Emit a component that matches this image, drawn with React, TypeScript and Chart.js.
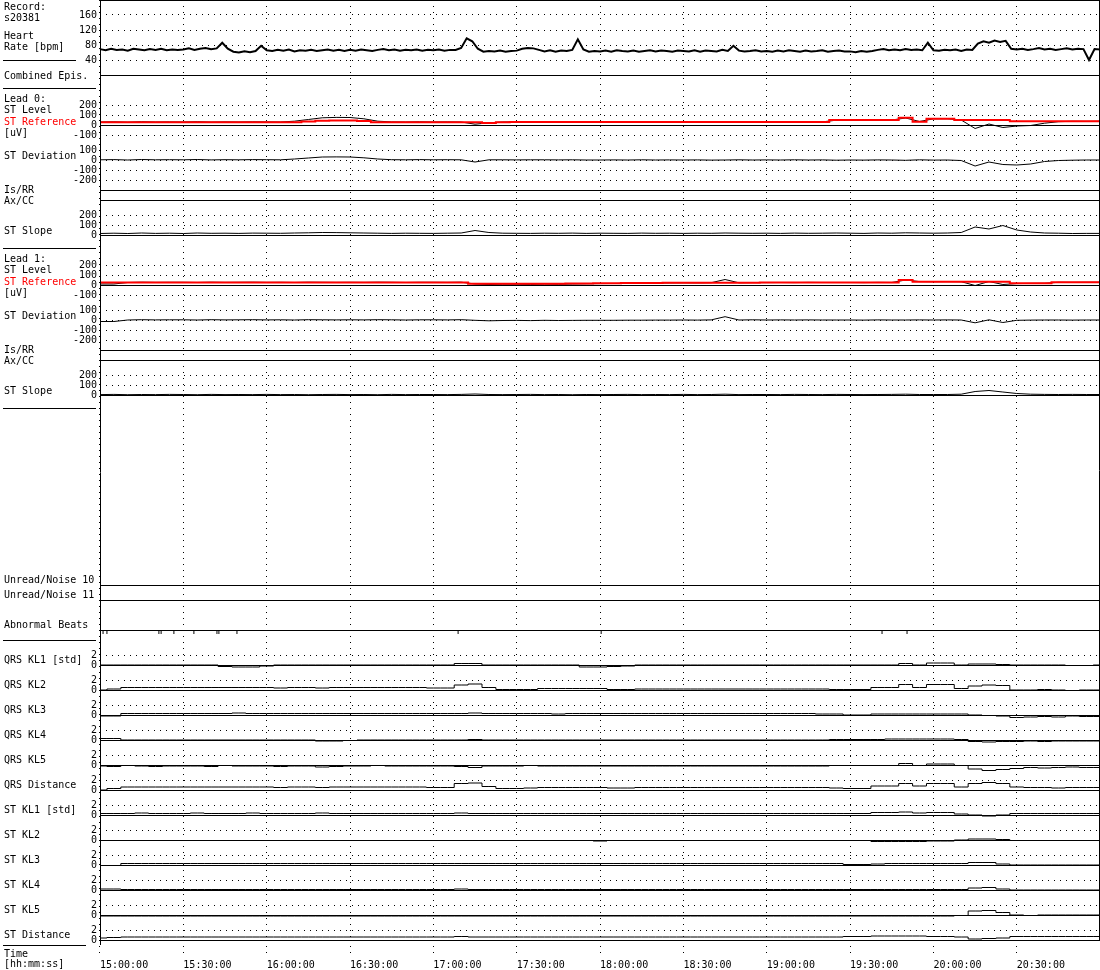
import React, { useEffect, useRef } from 'react';
import { Chart, registerables } from 'chart.js';

Chart.register(...registerables);

const FONT_FAMILY = '"DejaVu Sans Mono", "Liberation Mono", monospace';
const RED = '#ff0000';
const BLACK = '#000000';

// ---------- time axis (minutes after 15:00:00) ----------
const timeTickValues = [0, 30, 60, 90, 120, 150, 180, 210, 240, 270, 300, 330];
const timeTickLabels = ['15:00:00', '15:30:00', '16:00:00', '16:30:00', '17:00:00', '17:30:00',
  '18:00:00', '18:30:00', '19:00:00', '19:30:00', '20:00:00', '20:30:00'];
const TIME_MAX = 359.6;

// ---------- tick labels of the strips ----------
const hrTicks = [160, 120, 80, 40];
const stLevelTicks = [200, 100, 0, -100];
const stDevTicks = [100, 0, -100, -200];
const stSlopeTicks = [200, 100, 0];
const klTicks = [2, 0];

// ---------- heart rate [bpm], one sample every 2 minutes ----------
const HR_STEP = 2;
const heartRate = [
  69, 66, 70, 67, 68, 65, 70, 68, 66, 69, 67, 70, 66, 68, 67,
  68, 71, 67, 70, 72, 69, 71, 86, 70, 62, 60, 63, 61, 64, 78,
  66, 64, 67, 65, 68, 63, 66, 65, 67, 64, 66, 68, 65, 67, 64,
  67, 65, 68, 66, 64, 67, 69, 66, 68, 65, 67, 66, 68, 65, 67,
  66, 68, 65, 67, 67, 72, 98, 90, 70, 62, 64, 63, 65, 62, 64,
  65, 70, 72, 71, 67, 63, 66, 62, 65, 64, 67, 95, 68, 62, 64,
  63, 65, 62, 66, 64, 63, 65, 62, 64, 66, 63, 65, 64, 62, 65,
  64, 63, 66, 62, 65, 64, 63, 67, 64, 78, 65, 63, 64, 66, 63,
  64, 62, 65, 63, 66, 64, 62, 65, 63, 64, 66, 62, 64, 65, 63,
  63, 61, 64, 62, 64, 67, 69, 66, 68, 66, 69, 67, 68, 66, 86,
  66, 65, 67, 66, 68, 64, 68, 67, 84, 90, 86, 92, 88, 91, 70,
  68, 70, 67, 69, 72, 68, 70, 67, 69, 71, 68, 70, 69, 40, 69,
  68,
];

// ---------- trend series, one sample every 5 minutes ----------
const TREND_STEP = 5;

const lead0StLevel = [
  30, 32, 28, 33, 30, 31,
  30, 33, 29, 31, 30, 32,
  31, 30, 38, 55, 72, 76,
  75, 62, 38, 31, 30, 32,
  30, 31, 30, 8, 22, 30,
  31, 30, 32, 29, 31, 30,
  30, 31, 30, 32, 30, 31,
  30, 31, 29, 30, 32, 30,
  31, 30, 32, 30, 31, 48,
  50, 49, 51, 50, 70, 35,
  62, 63, 50, -35, 10, -25,
  -10, -5, 18, 33, 37, 36,
  37,
];
const lead0StReference = [
  28, 28, 28, 28, 28, 28,
  28, 28, 28, 28, 28, 28,
  28, 28, 28, 35, 42, 45,
  45, 40, 28, 28, 28, 28,
  28, 28, 28, 28, 20, 28,
  30, 30, 30, 30, 30, 30,
  30, 30, 30, 30, 30, 30,
  30, 30, 30, 30, 30, 30,
  30, 30, 30, 30, 30, 50,
  50, 50, 50, 50, 73, 33,
  63, 63, 50, 50, 50, 50,
  37, 37, 37, 37, 37, 37,
  37,
];
const lead0StDeviation = [
  2, 4, 0, 5, 2, 3,
  2, 5, 1, 3, 2, 4,
  3, 2, 10, 20, 30, 31,
  30, 22, 10, 3, 2, 4,
  2, 3, 2, -20, 2, 2,
  1, 2, 2, 1, 2, 0,
  0, 1, 0, 2, 0, 1,
  0, 1, -1, 0, 2, 0,
  1, 0, 2, 0, 1, -2,
  0, -1, 1, 0, -3, 2,
  -1, 0, -5, -60, -20, -45,
  -50, -40, -15, -5, -2, 0,
  0,
];
const lead0StSlope = [
  15, 18, 15, 20, 16, 18,
  15, 20, 17, 18, 16, 19,
  18, 17, 20, 22, 25, 24,
  22, 20, 18, 16, 18, 17,
  16, 18, 20, 45, 25, 18,
  17, 16, 18, 17, 19, 16,
  18, 17, 16, 19, 17, 18,
  16, 18, 17, 20, 18, 17,
  18, 16, 19, 17, 18, 20,
  18, 16, 20, 18, 22, 20,
  18, 20, 25, 80, 60, 95,
  50, 30, 20, 18, 15, 16,
  16,
];

const lead1StLevel = [
  10, 10, 25, 28, 26, 27,
  27, 25, 28, 26, 27, 28,
  26, 27, 25, 28, 27, 26,
  27, 26, 28, 27, 25, 27,
  27, 26, 28, 10, 5, 8,
  8, 6, 9, 7, 10, 12,
  14, 15, 17, 18, 20, 21,
  22, 21, 23, 55, 22, 24,
  24, 25, 24, 26, 25, 25,
  25, 24, 26, 25, 50, 34,
  33, 34, 33, -5, 35, 5,
  14, 16, 17, 27, 26, 27,
  27,
];
const lead1StReference = [
  25, 25, 25, 25, 25, 25,
  25, 25, 25, 25, 25, 25,
  25, 25, 25, 25, 25, 25,
  25, 25, 25, 25, 25, 25,
  25, 25, 25, 12, 12, 12,
  12, 12, 12, 12, 14, 15,
  17, 18, 19, 20, 21, 22,
  22, 22, 22, 22, 22, 22,
  24, 24, 24, 25, 25, 25,
  25, 25, 25, 25, 50, 33,
  33, 33, 33, 33, 33, 33,
  17, 17, 17, 27, 27, 27,
  27,
];
const lead1StDeviation = [
  -15, -15, 0, 3, 1, 2,
  2, 0, 3, 1, 2, 3,
  1, 2, 0, 3, 2, 1,
  2, 1, 3, 2, 0, 2,
  2, 1, 3, -3, -8, -5,
  -4, -6, -3, -5, -4, -3,
  -3, -3, -2, -2, -1, -1,
  0, -1, 1, 33, 0, 2,
  0, 1, 0, 1, 0, 0,
  0, -1, 1, 0, 0, 1,
  0, 1, 0, -28, 2, -25,
  -3, -1, 0, 0, -1, 0,
  0,
];
const lead1StSlope = [
  4, 6, 3, 5, 4, 6,
  5, 3, 6, 4, 5, 4,
  6, 4, 5, 3, 5, 6,
  4, 5, 3, 6, 4, 5,
  5, 4, 6, 10, 5, 4,
  5, 6, 4, 5, 3, 5,
  4, 5, 6, 4, 5, 4,
  6, 4, 5, 8, 4, 5,
  5, 4, 6, 5, 4, 6,
  5, 4, 5, 6, 8, 5,
  5, 5, 8, 35, 45, 30,
  15, 8, 6, 5, 6, 5,
  5,
];

// ---------- KL coefficients [std] ----------
const qrsKl1 = [
  0, 0, 0, 0, 0, 0,
  0, 0, 0, -0.3, -0.4, -0.4,
  -0.2, 0, 0, 0, 0, 0,
  0, 0, 0, 0, 0, 0,
  0, 0, 0.3, 0.3, 0, 0,
  0, 0, 0, 0, 0, -0.4,
  -0.4, -0.3, -0.2, 0, 0, 0,
  0, 0, 0, 0, 0, 0,
  0, 0, 0, 0, 0, 0,
  0, 0, 0, 0, 0.3, 0,
  0.4, 0.4, 0, 0.2, 0.2, 0.1,
  0, 0, 0, 0, -0.1, -0.1,
  0,
];
const qrsKl2 = [
  0, 0.2, 0.5, 0.5, 0.5, 0.5,
  0.5, 0.5, 0.5, 0.5, 0.5, 0.5,
  0.5, 0.4, 0.5, 0.5, 0.4, 0.5,
  0.5, 0.5, 0.5, 0.5, 0.5, 0.5,
  0.4, 0.4, 1.0, 1.2, 0.5, 0.1,
  0.1, 0.1, 0.3, 0.3, 0.3, 0.3,
  0.3, 0.1, 0.1, 0.2, 0.2, 0.2,
  0.2, 0.2, 0.2, 0.2, 0.2, 0.2,
  0.2, 0.2, 0.2, 0.2, 0.2, 0.1,
  0.1, 0.1, 0.5, 0.5, 1.1, 0.5,
  1.1, 1.1, 0.3, 0.8, 1.0, 0.9,
  0, 0, 0.1, 0, -0.1, 0,
  0,
];
const qrsKl3 = [
  -0.2, -0.2, 0.3, 0.3, 0.3, 0.3,
  0.3, 0.3, 0.3, 0.3, 0.4, 0.3,
  0.3, 0.3, 0.3, 0.3, 0.3, 0.3,
  0.3, 0.3, 0.3, 0.3, 0.3, 0.3,
  0.3, 0.3, 0.3, 0.4, 0.3, 0.3,
  0.3, 0.3, 0.3, 0.2, 0.3, 0.3,
  0.3, 0.3, 0.3, 0.3, 0.3, 0.3,
  0.3, 0.3, 0.3, 0.3, 0.3, 0.3,
  0.3, 0.3, 0.3, 0.3, 0.2, 0.2,
  0, 0, 0.2, 0.2, 0.2, 0.2,
  0.2, 0.2, 0.2, 0, -0.1, -0.2,
  -0.5, -0.4, -0.3, -0.4, -0.2, -0.3,
  -0.3,
];
const qrsKl4 = [
  0.3, 0.3, 0, 0, 0, 0,
  0, 0, 0, 0, 0, 0,
  0, 0, 0, 0, -0.2, -0.2,
  -0.1, 0, 0, 0, 0, 0,
  0, 0, 0, 0.1, 0, 0,
  0, 0, 0, 0, 0, 0,
  0, 0, 0, 0, 0, 0,
  0, 0, 0, 0, 0, 0,
  0, 0, 0, 0, 0, 0.1,
  0.1, 0.1, 0.1, 0.2, 0.2, 0.2,
  0.2, 0.2, 0.1, -0.3, -0.4, -0.3,
  -0.3, -0.2, -0.3, -0.2, -0.2, -0.2,
  -0.2,
];
const qrsKl5 = [
  -0.2, -0.3, -0.1, -0.2, -0.3, -0.2,
  -0.2, -0.2, -0.3, -0.1, -0.2, -0.2,
  -0.2, -0.3, -0.2, -0.2, -0.4, -0.3,
  -0.2, -0.2, -0.1, -0.2, -0.2, -0.2,
  -0.2, -0.2, -0.3, -0.5, -0.2, -0.2,
  -0.2, -0.1, -0.2, -0.2, -0.2, -0.2,
  -0.2, -0.2, -0.2, -0.2, -0.2, -0.2,
  -0.2, -0.2, -0.2, -0.2, -0.2, -0.2,
  -0.2, -0.2, -0.2, -0.2, -0.2, -0.1,
  -0.1, -0.1, -0.1, -0.1, 0.3, -0.1,
  0.2, 0.2, -0.1, -0.8, -1.1, -0.9,
  -0.7, -0.5, -0.6, -0.5, -0.4, -0.5,
  -0.5,
];
const qrsDistance = [
  0, 0.3, 0.6, 0.6, 0.6, 0.6,
  0.6, 0.6, 0.6, 0.6, 0.6, 0.6,
  0.6, 0.5, 0.6, 0.6, 0.5, 0.6,
  0.6, 0.6, 0.6, 0.6, 0.6, 0.6,
  0.5, 0.5, 1.3, 1.4, 0.7, 0.3,
  0.3, 0.4, 0.5, 0.5, 0.5, 0.5,
  0.5, 0.4, 0.4, 0.5, 0.5, 0.5,
  0.5, 0.5, 0.5, 0.5, 0.5, 0.5,
  0.5, 0.5, 0.5, 0.5, 0.5, 0.4,
  0.3, 0.3, 0.8, 0.8, 1.3, 0.8,
  1.3, 1.3, 0.6, 1.3, 1.5, 1.3,
  0.6, 0.5, 0.5, 0.4, 0.5, 0.5,
  0.5,
];
const stKl1 = [
  0.3, 0.3, 0.3, 0.4, 0.3, 0.3,
  0.3, 0.4, 0.3, 0.3, 0.3, 0.4,
  0.3, 0.3, 0.3, 0.3, 0.4, 0.3,
  0.3, 0.3, 0.3, 0.3, 0.3, 0.3,
  0.3, 0.3, 0.4, 0.3, 0.3, 0.3,
  0.3, 0.3, 0.3, 0.3, 0.3, 0.3,
  0.3, 0.3, 0.3, 0.3, 0.3, 0.3,
  0.3, 0.3, 0.3, 0.3, 0.3, 0.3,
  0.3, 0.3, 0.3, 0.3, 0.3, 0.3,
  0.3, 0.3, 0.5, 0.5, 0.6, 0.4,
  0.5, 0.5, 0.2, 0, -0.2, 0,
  0.3, 0.3, 0.3, 0.3, 0.3, 0.3,
  0.3,
];
const stKl2 = [
  -0.1, -0.1, -0.1, -0.1, -0.1, -0.1,
  -0.1, -0.1, -0.1, -0.1, -0.1, -0.1,
  -0.1, -0.1, -0.1, -0.1, -0.1, -0.1,
  -0.1, -0.1, -0.1, -0.1, -0.1, -0.1,
  -0.1, -0.1, -0.1, -0.1, -0.1, -0.1,
  -0.1, -0.1, -0.1, -0.1, -0.1, -0.1,
  -0.2, -0.1, -0.1, -0.1, -0.1, -0.1,
  -0.1, -0.1, -0.1, -0.1, -0.1, -0.1,
  -0.1, -0.1, -0.1, -0.1, -0.1, -0.1,
  -0.1, -0.1, -0.3, -0.3, -0.3, -0.3,
  -0.2, -0.2, 0, 0.2, 0.2, 0.1,
  -0.1, -0.1, -0.1, -0.1, -0.1, -0.1,
  -0.1,
];
const stKl3 = [
  -0.1, -0.1, 0.3, 0.3, 0.3, 0.3,
  0.3, 0.3, 0.3, 0.3, 0.3, 0.3,
  0.3, 0.3, 0.3, 0.3, 0.3, 0.3,
  0.3, 0.3, 0.3, 0.3, 0.3, 0.3,
  0.3, 0.3, 0.3, 0.3, 0.3, 0.3,
  0.3, 0.3, 0.3, 0.3, 0.3, 0.3,
  0.3, 0.3, 0.3, 0.3, 0.3, 0.3,
  0.3, 0.3, 0.3, 0.3, 0.3, 0.3,
  0.3, 0.3, 0.3, 0.3, 0.3, 0.3,
  0.1, 0.1, 0.2, 0.3, 0.3, 0.3,
  0.3, 0.3, 0.3, 0.5, 0.5, 0.2,
  0, 0, 0, 0, 0, 0,
  0,
];
const stKl4 = [
  0.2, 0.2, 0.1, 0.1, 0.1, 0.1,
  0.1, 0.1, 0.1, 0.1, 0.1, 0.1,
  0.1, 0.1, 0.1, 0.1, 0.1, 0.1,
  0.1, 0.1, 0.1, 0.1, 0.1, 0.1,
  0.1, 0.1, 0.2, 0.1, 0.1, 0.1,
  0.1, 0.1, 0.1, 0.1, 0.1, 0.1,
  0.1, 0.1, 0.1, 0.1, 0.1, 0.1,
  0.1, 0.1, 0.1, 0.1, 0.1, 0.1,
  0.1, 0.1, 0.1, 0.1, 0.1, 0.1,
  0.1, 0.1, 0.1, 0.1, 0.1, 0.1,
  0.1, 0.1, 0.1, 0.4, 0.5, 0.2,
  0, 0, 0, 0, 0, 0,
  0,
];
const stKl5 = [
  -0.2, -0.2, -0.2, -0.2, -0.2, -0.2,
  -0.2, -0.2, -0.2, -0.2, -0.2, -0.2,
  -0.2, -0.2, -0.2, -0.2, -0.2, -0.2,
  -0.2, -0.2, -0.2, -0.2, -0.2, -0.2,
  -0.2, -0.2, -0.2, -0.2, -0.2, -0.2,
  -0.2, -0.2, -0.2, -0.2, -0.2, -0.2,
  -0.2, -0.2, -0.2, -0.2, -0.2, -0.2,
  -0.2, -0.2, -0.2, -0.2, -0.2, -0.2,
  -0.2, -0.2, -0.2, -0.2, -0.2, -0.2,
  -0.2, -0.2, -0.2, -0.2, -0.2, -0.2,
  -0.2, -0.2, -0.1, 0.8, 0.9, 0.5,
  0, -0.1, 0, 0, 0, 0,
  0,
];
const stDistance = [
  0.4, 0.5, 0.6, 0.6, 0.6, 0.6,
  0.6, 0.6, 0.6, 0.6, 0.6, 0.6,
  0.6, 0.6, 0.6, 0.6, 0.6, 0.6,
  0.6, 0.6, 0.6, 0.6, 0.6, 0.6,
  0.6, 0.6, 0.7, 0.6, 0.6, 0.6,
  0.6, 0.6, 0.6, 0.6, 0.6, 0.6,
  0.6, 0.6, 0.6, 0.6, 0.6, 0.6,
  0.6, 0.6, 0.6, 0.6, 0.6, 0.6,
  0.6, 0.6, 0.6, 0.6, 0.6, 0.6,
  0.7, 0.7, 0.8, 0.8, 0.8, 0.8,
  0.7, 0.7, 0.6, 0.2, 0.3, 0.4,
  0.7, 0.7, 0.7, 0.7, 0.7, 0.7,
  0.7,
];

// abnormal beats (minutes after 15:00:00)
const abnormalBeatTimes = [1.1, 2.5, 21.2, 22, 26.6, 33.8, 42.1, 42.8, 49.3, 128.9, 180.4, 281.5, 290.5];

const klNames = ['QRS KL1 [std]', 'QRS KL2', 'QRS KL3', 'QRS KL4', 'QRS KL5', 'QRS Distance',
  'ST KL1 [std]', 'ST KL2', 'ST KL3', 'ST KL4', 'ST KL5', 'ST Distance'];
const klSeries = [qrsKl1, qrsKl2, qrsKl3, qrsKl4, qrsKl5, qrsDistance, stKl1, stKl2, stKl3, stKl4, stKl5, stDistance];

// ---------- strip layout (top to bottom) ----------
type Panel = { id: string; height: number; min: number; max: number; ticks?: number[]; baseline?: number };

function leadPanels(n: number): Panel[] {
  return [
    { id: `l${n}lvl`, height: 52, min: -150, max: 370, ticks: stLevelTicks, baseline: 0 },
    { id: `l${n}dev`, height: 45, min: -250, max: 200, ticks: stDevTicks },
    { id: `l${n}isrr`, height: 5, min: 0, max: 1, baseline: 0 },
    { id: `l${n}axcc`, height: 10, min: 0, max: 1, baseline: 0 },
    { id: `l${n}slope`, height: 48, min: -130, max: 350, ticks: stSlopeTicks, baseline: 0 },
  ];
}

const panels: Panel[] = [
  { id: 'hr', height: 75, min: 0, max: 200, ticks: hrTicks, baseline: 0 },
  { id: 'epis', height: 13, min: 0, max: 1 },
  ...leadPanels(0),
  ...leadPanels(1),
  { id: 'lead2', height: 167, min: 0, max: 1 },
  { id: 'noise10', height: 10, min: 0, max: 1, baseline: 0 },
  { id: 'noise11', height: 15, min: 0, max: 1, baseline: 0 },
  { id: 'beats', height: 40, min: -1, max: 3, baseline: 0 },
  ...klNames.map((_, i) => ({ id: `kl${i}`, height: 25, min: 0, max: 5, ticks: klTicks, baseline: 0 })),
];

function leadText(n: number, dy: number): [string, number, string?][] {
  return [
    [`Lead ${n}:`, 101.5 + dy], ['ST Level', 113.3 + dy], ['ST Reference', 124.8 + dy, RED], ['[uV]', 135.8 + dy],
    ['ST Deviation', 159.2 + dy], ['Is/RR', 192.5 + dy], ['Ax/CC', 203.5 + dy], ['ST Slope', 234 + dy],
  ];
}

const leftText: [string, number, string?][] = [
  ['Record:', 10], ['s20381', 21.2], ['Heart', 39], ['Rate [bpm]', 50], ['Combined Epis.', 79.2],
  ...leadText(0, 0),
  ...leadText(1, 160),
  ['Unread/Noise 10', 582.8], ['Unread/Noise 11', 597.8], ['Abnormal Beats', 628.2],
  ...klNames.map((t, i) => [t, 663.3 + 25 * i] as [string, number]),
  ['Time', 956.7], ['[hh:mm:ss]', 967.3],
];
const leftRules: [number, number][] = [[60.5, 76], [88.5, 96], [248.5, 96], [408.5, 96], [640.5, 96], [945.5, 86]];

// ---------- datasets ----------
function series(values: number[], step: number, axis: string, color: string, width: number, order: number, stepped: any = false) {
  return {
    type: 'line' as const,
    data: values.map((v, i) => ({ x: i * step, y: v })),
    yAxisID: axis,
    borderColor: color,
    borderWidth: width,
    pointRadius: 0,
    fill: false,
    tension: 0,
    stepped,
    order,
    clip: false,
  };
}

function buildDatasets() {
  const ds: any[] = [
    series(heartRate, HR_STEP, 'hr', BLACK, 2, 1),
    series(lead0StReference, TREND_STEP, 'l0lvl', RED, 2, 0, 'middle'),
    series(lead0StLevel, TREND_STEP, 'l0lvl', BLACK, 1, 1),
    series(lead0StDeviation, TREND_STEP, 'l0dev', BLACK, 1, 1),
    series(lead0StSlope, TREND_STEP, 'l0slope', BLACK, 1, 1),
    series(lead1StReference, TREND_STEP, 'l1lvl', RED, 2, 0, 'middle'),
    series(lead1StLevel, TREND_STEP, 'l1lvl', BLACK, 1, 1),
    series(lead1StDeviation, TREND_STEP, 'l1dev', BLACK, 1, 1),
    series(lead1StSlope, TREND_STEP, 'l1slope', BLACK, 1, 1),
    ...klSeries.map((vals, i) => series(vals, TREND_STEP, `kl${i}`, BLACK, 1, 1, 'middle')),
    {
      type: 'scatter' as const,
      data: abnormalBeatTimes.map((t) => ({ x: t, y: -0.2 })),
      yAxisID: 'beats',
      showLine: false,
      pointStyle: 'line',
      rotation: 90,
      pointRadius: 2,
      borderColor: BLACK,
      borderWidth: 1,
      order: 1,
      clip: false,
    },
  ];
  return ds;
}

function buildScales() {
  const font = { family: FONT_FAMILY, size: 10 };
  const scales: any = {
    x: {
      type: 'linear',
      position: 'bottom',
      min: 0,
      max: TIME_MAX,
      afterFit: (s: any) => { s.height = 30; s.paddingLeft = 0; s.paddingRight = 0; },
      afterBuildTicks: (s: any) => { s.ticks = timeTickValues.map((v) => ({ value: v })); },
      ticks: {
        autoSkip: false, maxRotation: 0, minRotation: 0, align: 'start', padding: 2,
        color: BLACK, font, callback: (_v: any, i: number) => timeTickLabels[i],
      },
      grid: { color: BLACK, lineWidth: 1, drawTicks: true, tickLength: 17, tickColor: BLACK, tickBorderDash: [1, 5], tickWidth: 1 },
      border: { display: false, dash: [1, 5] },
    },
  };
  panels.forEach((p, i) => {
    scales[p.id] = {
      type: 'linear',
      position: 'left',
      stack: 'strips',
      stackWeight: p.height,
      weight: panels.length - i,
      min: p.min,
      max: p.max,
      afterFit: (s: any) => { s.width = 100; s.paddingTop = 0; s.paddingBottom = 0; s.paddingLeft = 0; s.paddingRight = 0; },
      afterBuildTicks: (s: any) => { if (p.ticks) s.ticks = p.ticks.map((v) => ({ value: v })); },
      ticks: { display: !!p.ticks, padding: 3, color: BLACK, font, autoSkip: false, callback: (v: any) => String(v) },
      grid: { display: !!p.ticks, color: BLACK, lineWidth: 1, drawTicks: false },
      border: { display: false, dash: [1, 5] },
    };
  });
  return scales;
}

const stripPlugin = {
  id: 'stripDecor',
  beforeDatasetsDraw(chart: any) {
    const { ctx, chartArea } = chart;
    ctx.save();
    ctx.strokeStyle = BLACK;
    ctx.lineWidth = 1;
    ctx.setLineDash([]);
    panels.forEach((p) => {
      if (p.baseline === undefined) return;
      const y = Math.round(chart.scales[p.id].getPixelForValue(p.baseline)) + 0.5;
      ctx.beginPath();
      ctx.moveTo(chartArea.left, y);
      ctx.lineTo(chartArea.right + 1, y);
      ctx.stroke();
    });
    ctx.restore();
  },
  afterDraw(chart: any) {
    const { ctx, chartArea } = chart;
    ctx.save();
    ctx.strokeStyle = BLACK;
    ctx.lineWidth = 1;
    ctx.setLineDash([]);
    ctx.beginPath();
    // frame: top, left, right
    ctx.moveTo(chartArea.left, 0.5);
    ctx.lineTo(chartArea.right + 1, 0.5);
    ctx.moveTo(chartArea.left + 0.5, 0);
    ctx.lineTo(chartArea.left + 0.5, chartArea.bottom + 5);
    ctx.moveTo(chartArea.right + 0.5, 0);
    ctx.lineTo(chartArea.right + 0.5, chartArea.bottom + 1);
    leftRules.forEach(([y, x2]) => { ctx.moveTo(3, y); ctx.lineTo(x2, y); });
    ctx.stroke();
    ctx.font = `10px ${FONT_FAMILY}`;
    ctx.textAlign = 'left';
    ctx.textBaseline = 'alphabetic';
    leftText.forEach(([t, y, c]) => {
      ctx.fillStyle = c || BLACK;
      ctx.fillText(t, 4, y);
    });
    ctx.restore();
  },
};

export default function App() {
  const canvasRef = useRef<HTMLCanvasElement | null>(null);
  useEffect(() => {
    if (!canvasRef.current) return;
    const chart = new Chart(canvasRef.current, {
      type: 'line',
      data: { datasets: buildDatasets() },
      options: {
        responsive: false,
        maintainAspectRatio: false,
        animation: false,
        devicePixelRatio: 1,
        events: [],
        layout: { padding: { left: 0, right: 1, top: 0, bottom: 0 }, autoPadding: false },
        plugins: { legend: { display: false }, tooltip: { enabled: false }, title: { display: false } },
        scales: buildScales(),
      } as any,
      plugins: [stripPlugin],
    });
    return () => chart.destroy();
  }, []);
  return (
    <div style={{ position: 'absolute', left: 0, top: 0, width: 1100, height: 970, background: '#ffffff' }}>
      <canvas ref={canvasRef} width={1100} height={970} style={{ display: 'block', width: 1100, height: 970 }} />
    </div>
  );
}
